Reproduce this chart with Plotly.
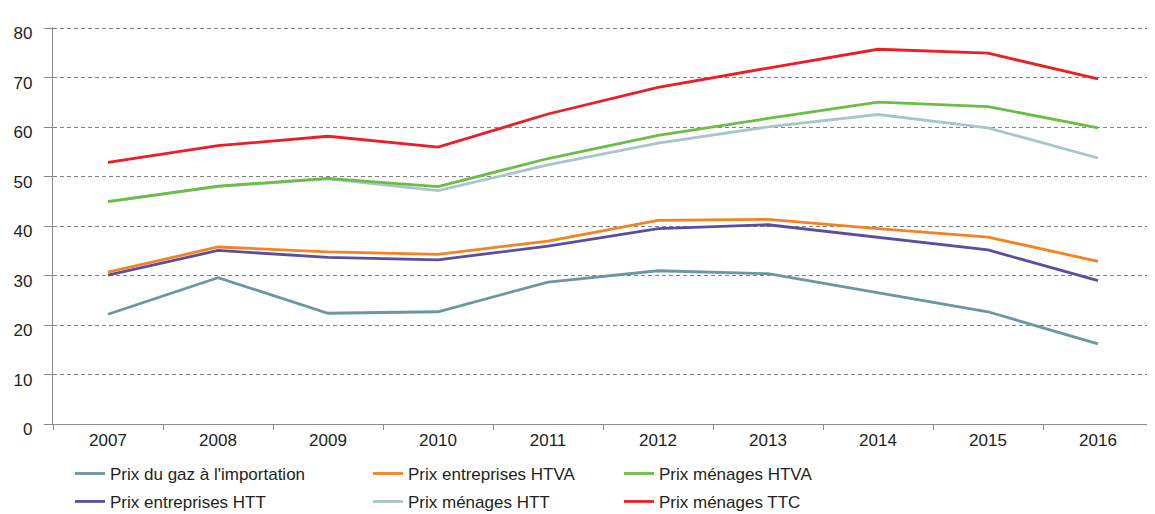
import plotly.graph_objects as go

years = ["2007", "2008", "2009", "2010", "2011", "2012", "2013", "2014", "2015", "2016"]

prix_import = [22.2, 29.6, 22.4, 22.7, 28.7, 31.0, 30.4, 26.5, 22.7, 16.2]
prix_ent_htt = [30.1, 35.1, 33.7, 33.2, 36.0, 39.5, 40.3, 37.8, 35.2, 29.0]
prix_ent_htva = [30.7, 35.8, 34.8, 34.3, 37.0, 41.2, 41.4, 39.5, 37.8, 32.9]
prix_men_htt = [45.0, 48.0, 49.6, 47.2, 52.4, 56.8, 60.1, 62.6, 59.9, 53.8]
prix_men_htva = [45.0, 48.1, 49.7, 48.0, 53.7, 58.4, 61.8, 65.1, 64.2, 59.9]
prix_men_ttc = [52.9, 56.3, 58.2, 56.0, 62.7, 68.1, 72.0, 75.8, 75.0, 69.8]

# (name, values, colour, legend id) in drawing order
series = [
    ("Prix du gaz à l'importation", prix_import, "#6A97A1", "legend"),
    ("Prix entreprises HTT", prix_ent_htt, "#5A4EA0", "legend2"),
    ("Prix entreprises HTVA", prix_ent_htva, "#F58220", "legend3"),
    ("Prix ménages HTT", prix_men_htt, "#A9C5CA", "legend4"),
    ("Prix ménages HTVA", prix_men_htva, "#6BBE45", "legend5"),
    ("Prix ménages TTC", prix_men_ttc, "#EE1D25", "legend6"),
]

# y range a touch above 80 so plotly keeps the top gridline
ytop = 80.3
scale = 396 / 80.0
H = ytop * scale

# legend slots: (x paper, y paper); page has an 8px body margin
W = 1100.0
row1 = (424 - 474) / H
row2 = (424 - 502) / H
legend_pos = {
    "legend": ((70 - 53) / W, row1),
    "legend2": ((70 - 53) / W, row2),
    "legend3": ((368 - 53) / W, row1),
    "legend4": ((368 - 53) / W, row2),
    "legend5": ((619 - 53) / W, row1),
    "legend6": ((619 - 53) / W, row2),
}

fig = go.Figure()
for name, vals, col, lg in series:
    fig.add_trace(go.Scatter(x=years, y=vals, name=name, mode="lines",
                             line=dict(color=col, width=2.8), legend=lg))

font = dict(family="Liberation Sans, Arial, sans-serif", size=17, color="#231F20")
layout_legends = {}
for lg, (lx, ly) in legend_pos.items():
    layout_legends[lg] = dict(x=lx, y=ly, xanchor="left", yanchor="middle",
                              bgcolor="rgba(0,0,0,0)", font=font,
                              borderwidth=0, itemwidth=30)

fig.update_layout(
    width=1147, height=506,
    margin=dict(l=45, r=2, t=20 - (H - 396), b=90, autoexpand=False),
    plot_bgcolor="white", paper_bgcolor="white",
    font=font,
    showlegend=True,
    **layout_legends,
)
fig.update_xaxes(
    type="category", range=[-0.5, 9.5], automargin=False,
    showline=True, linecolor="#8A8A8A", linewidth=1.3,
    ticks="outside", tickson="boundaries", ticklen=5, tickcolor="#8A8A8A",
    showgrid=False, tickfont=font,
)
fig.update_yaxes(
    range=[0, ytop], dtick=10, automargin=False,
    showline=True, linecolor="#8A8A8A", linewidth=1.3,
    ticks="outside", ticklen=8, tickcolor="#8A8A8A",
    showgrid=True, gridcolor="#808080", griddash="4px,3px", gridwidth=1,
    zeroline=False, tickfont=font, ticklabelstandoff=8, ticklabelshift=5,
)

fig.write_html("out.html")
